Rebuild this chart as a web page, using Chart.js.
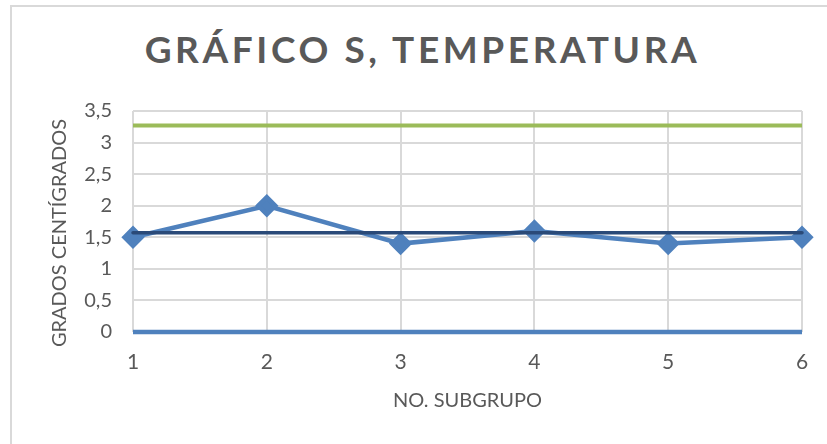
<!DOCTYPE html>
<html lang="es">
<head>
<meta charset="utf-8">
<title>Gráfico S, temperatura</title>
<script src="https://cdn.jsdelivr.net/npm/chart.js@4/dist/chart.umd.min.js"></script>
<style>
  html, body { margin: 0; padding: 0; background: #fff; }
  #wrap { position: relative; width: 827px; height: 444px; overflow: hidden; }
  #frame { position: absolute; left: 10px; top: 5px; right: -10px; bottom: -10px;
           border-left: 2px solid #d9d9d9; border-top: 2px solid #d9d9d9; }
  #titulo { position: absolute; left: 0; width: 845px; top: 26px; text-align: center;
            font-family: Lato, sans-serif; font-weight: bold; font-size: 37px;
            letter-spacing: 3.6px; color: #595959; }
  canvas { position: absolute; left: 0; top: 0; }
</style>
</head>
<body>
<div id="wrap">
  <div id="frame"></div>
  <div id="titulo">GRÁFICO S, TEMPERATURA</div>
  <canvas id="graficoS" width="827" height="444"></canvas>
</div>
<script>
// subgrupos y desviaciones estándar
const subgrupos = ['1', '2', '3', '4', '5', '6'];
const valoresS = [1.5, 2.0, 1.4, 1.6, 1.4, 1.5];
// límites de control
const limiteSuperior = [3.27, 3.27, 3.27, 3.27, 3.27, 3.27];
const lineaCentral = [1.57, 1.57, 1.57, 1.57, 1.57, 1.57];
const limiteInferior = [0, 0, 0, 0, 0, 0];

const fuente = "Lato, sans-serif";
const gris = '#595959';
const tituloEjeY = 'GRADOS CENTÍGRADOS';

// título vertical del eje Y, algo más abajo que el centro del área
const tituloVertical = {
    id: 'tituloVertical',
    afterDraw(chart) {
        const ctx = chart.ctx;
        ctx.save();
        ctx.translate(60, 233);
        ctx.rotate(-Math.PI / 2);
        ctx.font = '20px ' + fuente;
        ctx.fillStyle = gris;
        ctx.textAlign = 'center';
        ctx.textBaseline = 'middle';
        ctx.fillText(tituloEjeY, 0, 0);
        ctx.restore();
    }
};

new Chart('graficoS', {
    type: 'line',
    data: {
        labels: subgrupos,
        datasets: [{
            label: 'S',
            data: valoresS,
            borderColor: '#4f81bd',
            backgroundColor: '#4f81bd',
            borderWidth: 4.5,
            pointStyle: 'rectRot',
            pointRadius: 8.5,
            pointHoverRadius: 8.5,
            clip: false,
            order: 3
        }, {
            label: 'LC',
            data: lineaCentral,
            borderColor: '#2a4a78',
            borderWidth: 3.5,
            borderCapStyle: 'round',
            pointRadius: 0,
            clip: false,
            order: 1
        }, {
            label: 'LSC',
            data: limiteSuperior,
            borderColor: '#9bbb59',
            borderWidth: 4,
            pointRadius: 0,
            clip: false,
            order: 2
        }, {
            label: 'LIC',
            data: limiteInferior,
            borderColor: '#4f81bd',
            borderWidth: 4.5,
            pointRadius: 0,
            clip: false,
            order: 4
        }]
    },
    options: {
        responsive: false,
        animation: false,
        layout: { padding: { top: 111, right: 25, left: 0, bottom: 31 } },
        plugins: {
            legend: { display: false },
            tooltip: { enabled: false }
        },
        scales: {
            x: {
                grid: { color: '#d9d9d9', lineWidth: 2, drawTicks: false },
                border: { display: false },
                ticks: { color: gris, padding: 18, font: { family: fuente, size: 21 } },
                title: {
                    display: true,
                    text: 'NO. SUBGRUPO',
                    color: gris,
                    font: { family: fuente, size: 20 },
                    padding: { top: 0, bottom: 0 }
                },
                afterFit: scale => { scale.height = 81; }
            },
            y: {
                min: 0,
                max: 3.5,
                grid: { color: '#d9d9d9', lineWidth: 2, drawTicks: false },
                border: { display: false },
                ticks: {
                    stepSize: 0.5,
                    color: gris,
                    padding: 21,
                    font: { family: fuente, size: 20 },
                    callback: v => String(v).replace('.', ',')
                },
                afterFit: scale => { scale.width = 133; }
            }
        }
    },
    plugins: [tituloVertical]
});
</script>
</body>
</html>
